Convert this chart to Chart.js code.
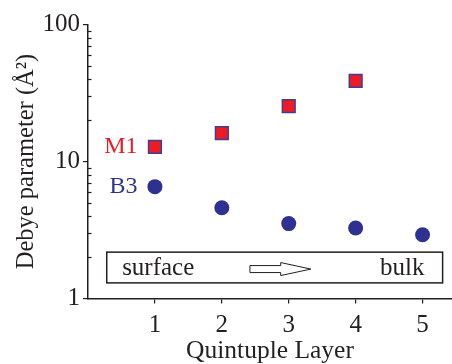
<!DOCTYPE html>
<html>
<head>
<meta charset="utf-8">
<script src="https://cdn.jsdelivr.net/npm/chart.js@4.4.0/dist/chart.umd.min.js"></script>
<style>
  body { margin: 0; background: #fff; }
  #wrap { width: 452px; height: 364px; }
</style>
</head>
<body>
<div id="wrap"><canvas id="myChart"></canvas></div>
<script>
let layers = [1, 2, 3, 4, 5];
let m1Layers = [1, 2, 3, 4];
let m1Values = [12.8, 16.1, 25.4, 38.7];
let b3Values = [6.55, 4.6, 3.52, 3.27, 2.92];
let yTicks = [1, 10, 100];
let xTicks = [1, 2, 3, 4, 5];

let serif = "'Liberation Serif', 'Times New Roman', serif";
let ink = '#231f20';
let red = '#ed1c24';
let blue = '#2e3192';

// labels, surface/bulk box and arrow, minor ticks inside the y axis
let extras = {
  id: 'extras',
  afterDraw(chart) {
    let ctx = chart.ctx;
    let x = chart.scales.x, y = chart.scales.y;
    ctx.save();

    ctx.strokeStyle = ink;
    ctx.lineWidth = 1.2;
    for (let d = 1; d <= 10; d *= 10) {
      for (let k = 2; k <= 9; k++) {
        let py = Math.round(y.getPixelForValue(k * d)) + 0.5;
        ctx.beginPath();
        ctx.moveTo(x.left, py);
        ctx.lineTo(x.left + 3.5, py);
        ctx.stroke();
      }
    }

    ctx.font = '24px ' + serif;
    ctx.textBaseline = 'middle';
    ctx.textAlign = 'right';
    ctx.fillStyle = red;
    ctx.fillText('M1', x.getPixelForValue(0.74), y.getPixelForValue(m1Values[0]));
    ctx.fillStyle = blue;
    ctx.fillText('B3', x.getPixelForValue(0.74), y.getPixelForValue(b3Values[0]));

    let bx0 = x.getPixelForValue(0.28), bx1 = x.getPixelForValue(5.3);
    let by0 = y.getPixelForValue(2.18), by1 = y.getPixelForValue(1.3);
    ctx.strokeStyle = ink;
    ctx.lineWidth = 1.5;
    ctx.strokeRect(bx0, by0, bx1 - bx0, by1 - by0);

    ctx.font = '25px ' + serif;
    ctx.fillStyle = ink;
    ctx.textBaseline = 'alphabetic';
    ctx.textAlign = 'left';
    let base = y.getPixelForValue(1.48);
    ctx.fillText('surface', x.getPixelForValue(0.51), base);
    ctx.textAlign = 'right';
    ctx.fillText('bulk', x.getPixelForValue(5.03), base);

    let ax0 = x.getPixelForValue(2.42), ax1 = x.getPixelForValue(2.88), ax2 = x.getPixelForValue(3.33);
    let ay = y.getPixelForValue(1.64);
    ctx.lineWidth = 1;
    ctx.beginPath();
    ctx.moveTo(ax0, ay - 3.5);
    ctx.lineTo(ax1, ay - 3.5);
    ctx.lineTo(ax1, ay - 6.5);
    ctx.lineTo(ax2, ay);
    ctx.lineTo(ax1, ay + 6.5);
    ctx.lineTo(ax1, ay + 3.5);
    ctx.lineTo(ax0, ay + 3.5);
    ctx.closePath();
    ctx.stroke();

    ctx.restore();
  }
};

let chart = new Chart(document.getElementById('myChart'), {
  type: 'scatter',
  data: {
    datasets: [
      {
        data: m1Layers.map((l, i) => ({ x: l, y: m1Values[i] })),
        pointStyle: 'rect',
        pointRadius: 9,
        backgroundColor: red,
        borderColor: '#3d3f96',
        borderWidth: 1.5
      },
      {
        data: layers.map((l, i) => ({ x: l, y: b3Values[i] })),
        pointStyle: 'circle',
        pointRadius: 7.5,
        backgroundColor: blue,
        borderWidth: 0
      }
    ]
  },
  options: {
    responsive: true,
    maintainAspectRatio: false,
    animation: false,
    layout: { autoPadding: false, padding: { top: 24.5, right: 0, left: 0, bottom: 0 } },
    plugins: { legend: { display: false }, tooltip: { enabled: false } },
    scales: {
      x: {
        type: 'linear',
        min: 0,
        max: 5.44,
        afterBuildTicks: s => { s.ticks = xTicks.map(v => ({ value: v })); },
        afterFit: s => { s.height = 65.5; s.paddingLeft = 0; s.paddingRight = 0; },
        grid: { drawOnChartArea: false, tickLength: 5, color: ink, lineWidth: 1.2 },
        border: { color: ink, width: 1.5 },
        ticks: { color: ink, font: { family: serif, size: 25 }, padding: 7 },
        title: {
          display: true, text: 'Quintuple Layer', color: ink,
          font: { family: serif, size: 25.5, lineHeight: 1 }, padding: 0
        }
      },
      y: {
        type: 'logarithmic',
        min: 1,
        max: 100,
        afterBuildTicks: s => { s.ticks = yTicks.map(v => ({ value: v })); },
        afterFit: s => { s.width = 88; },
        grid: { drawOnChartArea: false, tickLength: 5, color: ink, lineWidth: 1.2 },
        border: { color: ink, width: 1.5 },
        ticks: { color: ink, font: { family: serif, size: 25 }, padding: 3, callback: v => String(v) },
        title: {
          display: true, text: 'Debye parameter (Å²)', color: ink,
          font: { family: serif, size: 24.5, lineHeight: 1 }, padding: { top: 14, bottom: 0 }
        }
      }
    }
  },
  plugins: [extras]
});
</script>
</body>
</html>
